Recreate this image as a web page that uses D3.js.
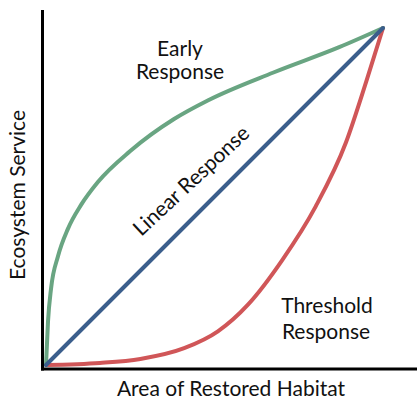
<!DOCTYPE html>
<html lang="en">
<head>
  <meta charset="UTF-8">
  <title>Ecosystem service response curves</title>
  <script src="https://d3js.org/d3.v7.min.js"></script>
  <style>
    body { margin: 0; background: #fff; }
    text { font-family: Lato, "Open Sans", sans-serif; fill: #111; font-size: 21px; }
  </style>
</head>
<body>
  <script>
    // Area restored (%) and service level (%)
    var earlyArea  = [0, 0.6, 1.5, 3.6, 6.5, 10.4, 15.4, 25, 38, 48, 67.5, 87, 100];
    var earlyValue = [0, 13, 22.7, 32.4, 40.4, 47.5, 54.3, 63.5, 73, 78.5, 86.8, 94.3, 100];

    var linearArea  = [0, 100];
    var linearValue = [0, 100];

    var thresholdArea  = [0, 16, 28, 41, 51, 60, 70, 80, 89, 95, 100];
    var thresholdValue = [0, 0.6, 1.8, 5, 10, 18, 31, 47, 66, 84, 100];

    var w = 417;
    var h = 400;

    var svg = d3.select("body")
      .append("svg")
      .attr("width", w)
      .attr("height", h);

    var xScale = d3.scaleLinear().domain([0, 100]).range([46, 383]);
    var yScale = d3.scaleLinear().domain([0, 100]).range([365, 28]);

    // axes: plain lines, no ticks
    svg.append("line")
      .attr("x1", 42.5).attr("y1", 10)
      .attr("x2", 42.5).attr("y2", 370.5)
      .attr("stroke", "#000").attr("stroke-width", 3);
    svg.append("line")
      .attr("x1", 41).attr("y1", 369)
      .attr("x2", w).attr("y2", 369)
      .attr("stroke", "#000").attr("stroke-width", 3);

    var line = d3.line()
      .x(function(d) { return xScale(d[0]); })
      .y(function(d) { return yScale(d[1]); })
      .curve(d3.curveMonotoneX);

    function draw(xs, ys, color) {
      svg.append("path")
        .datum(d3.zip(xs, ys))
        .attr("d", line)
        .attr("fill", "none")
        .attr("stroke", color)
        .attr("stroke-width", 4)
        .attr("stroke-linecap", "round");
    }

    draw(thresholdArea, thresholdValue, "#d05658");
    draw(earlyArea, earlyValue, "#69a582");
    draw(linearArea, linearValue, "#3b5e8c");

    // curve labels
    svg.append("text").attr("x", 180).attr("y", 56)
      .attr("text-anchor", "middle").text("Early");
    svg.append("text").attr("x", 180).attr("y", 79)
      .attr("text-anchor", "middle").text("Response");

    svg.append("text").attr("x", 327).attr("y", 313)
      .attr("text-anchor", "middle").text("Threshold");
    svg.append("text").attr("x", 326).attr("y", 339)
      .attr("text-anchor", "middle").text("Response");

    svg.append("text")
      .attr("transform", "translate(196,186) rotate(-43)")
      .attr("text-anchor", "middle")
      .text("Linear Response");

    // axis titles
    svg.append("text").attr("x", 231).attr("y", 396)
      .attr("text-anchor", "middle")
      .text("Area of Restored Habitat");
    svg.append("text")
      .attr("transform", "translate(25,195) rotate(-90)")
      .attr("text-anchor", "middle")
      .text("Ecosystem Service");
  </script>
</body>
</html>
